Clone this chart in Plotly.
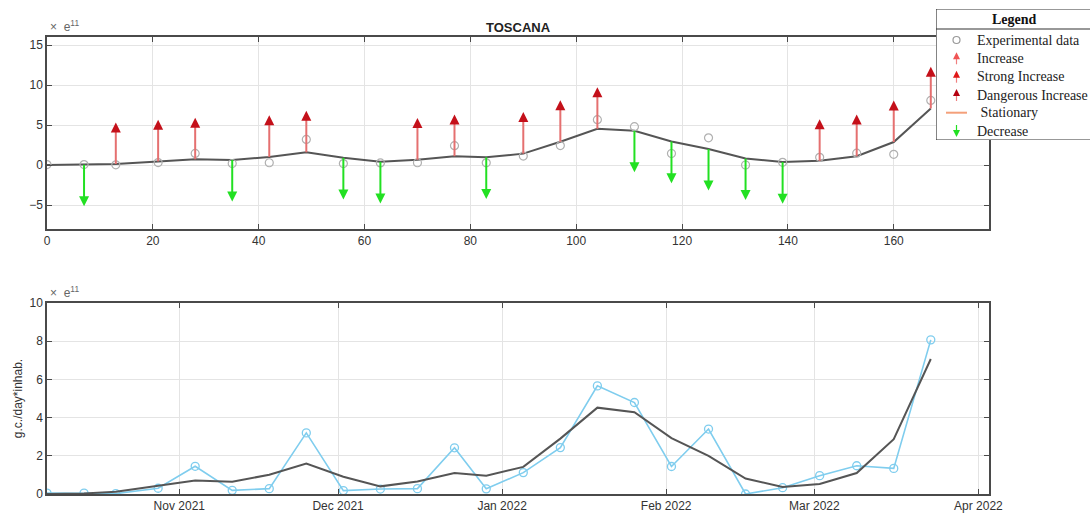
import plotly.graph_objects as go

# ---------------- data ----------------
days = [0, 7, 13, 21, 28, 35, 42, 49, 56, 63, 70, 77, 83, 90, 97, 104, 111, 118, 125, 132, 139, 146, 153, 160, 167]
dates = ["2021-10-07", "2021-10-14", "2021-10-20", "2021-10-28", "2021-11-04", "2021-11-11", "2021-11-18",
         "2021-11-25", "2021-12-02", "2021-12-09", "2021-12-16", "2021-12-23", "2021-12-29", "2022-01-05",
         "2022-01-12", "2022-01-19", "2022-01-26", "2022-02-02", "2022-02-09", "2022-02-16", "2022-02-23",
         "2022-03-02", "2022-03-09", "2022-03-16", "2022-03-23"]
experimental = [0.05, 0.05, 0.02, 0.30, 1.45, 0.19, 0.28, 3.20, 0.18, 0.26, 0.28, 2.42, 0.27, 1.12, 2.43,
                5.66, 4.79, 1.44, 3.40, 0.00, 0.33, 0.96, 1.48, 1.34, 8.07]
smoothed = [0.00, 0.03, 0.12, 0.45, 0.71, 0.64, 1.01, 1.59, 0.90, 0.40, 0.66, 1.10, 0.96, 1.42, 2.90,
            4.52, 4.28, 2.93, 2.00, 0.81, 0.37, 0.52, 1.10, 2.87, 7.07]
trend = ["none", "down", "up", "up", "up", "down", "up", "up", "down", "down", "up", "up", "down", "up", "up",
         "up", "down", "down", "down", "down", "down", "up", "up", "up", "up"]
month_ticks = ["2021-11-01", "2021-12-01", "2022-01-01", "2022-02-01", "2022-03-01", "2022-04-01"]
month_labels = ["Nov 2021", "Dec 2021", "Jan 2022", "Feb 2022", "Mar 2022", "Apr 2022"]
legend_labels = ["Experimental data", "Increase", "Strong Increase", "Dangerous Increase", " Stationary", "Decrease"]

ARROW = 5.2  # arrow length (units of 1e11)

RED_SHAFT = "#e57070"
RED_HEAD = "#c4101a"
GREEN = "#22e022"
GRAY_LINE = "#555555"
CIRC = "#b0b0b0"
BLUE = "#7fcdee"

W, H = 1090, 515


def px_x(a, b):
    return [a / W, min(1.0, b / W)]


def px_y(top, bottom):
    return [(H - bottom) / H, min(1.0, (H - top) / H)]


def pxx(a):
    return a / W


def pxy(a):
    return (H - a) / H


fig = go.Figure()

# ---------- top panel ----------
fig.add_trace(go.Scatter(x=days, y=smoothed, mode="lines", line=dict(color=GRAY_LINE, width=2),
                         showlegend=False, xaxis="x", yaxis="y", hoverinfo="skip"))
fig.add_trace(go.Scatter(x=days, y=experimental, mode="markers",
                         marker=dict(symbol="circle-open", size=8, color=CIRC, line=dict(width=1.2)),
                         showlegend=False, xaxis="x", yaxis="y"))

ux, uy, dx, dy = [], [], [], []
uhx, uhy, dhx, dhy = [], [], [], []
for d, s, t in zip(days, smoothed, trend):
    if t == "up":
        ux += [d, d, None]
        uy += [s, s + ARROW - 0.6, None]
        uhx.append(d)
        uhy.append(s + ARROW)
    elif t == "down":
        dx += [d, d, None]
        dy += [s, s - ARROW + 0.6, None]
        dhx.append(d)
        dhy.append(s - ARROW)

fig.add_trace(go.Scatter(x=ux, y=uy, mode="lines", line=dict(color=RED_SHAFT, width=2),
                         showlegend=False, xaxis="x", yaxis="y", hoverinfo="skip"))
fig.add_trace(go.Scatter(x=dx, y=dy, mode="lines", line=dict(color=GREEN, width=2),
                         showlegend=False, xaxis="x", yaxis="y", hoverinfo="skip"))
fig.add_trace(go.Scatter(x=uhx, y=uhy, mode="markers",
                         marker=dict(symbol="arrow-up", size=10, color=RED_HEAD),
                         showlegend=False, xaxis="x", yaxis="y"))
fig.add_trace(go.Scatter(x=dhx, y=dhy, mode="markers",
                         marker=dict(symbol="arrow-down", size=10, color=GREEN),
                         showlegend=False, xaxis="x", yaxis="y"))

# ---------- bottom panel ----------
fig.add_trace(go.Scatter(x=dates, y=experimental, mode="lines+markers",
                         line=dict(color=BLUE, width=1.6),
                         marker=dict(symbol="circle-open", size=8, color=BLUE, line=dict(width=1.3)),
                         showlegend=False, xaxis="x2", yaxis="y2"))
fig.add_trace(go.Scatter(x=dates, y=smoothed, mode="lines", line=dict(color=GRAY_LINE, width=2),
                         showlegend=False, xaxis="x2", yaxis="y2"))

# ---------- legend box (own hidden axes, pixel units) ----------
row_y = [31, 49.3, 67.7, 86, 103.7, 122]
sym_x = 20.5
fig.add_trace(go.Scatter(x=[sym_x], y=[row_y[0]], mode="markers",
                         marker=dict(symbol="circle-open", size=7, color="#999999", line=dict(width=1.2)),
                         showlegend=False, xaxis="x3", yaxis="y3", hoverinfo="skip"))
for yy, col in zip(row_y[1:4], ["#f05555", "#e01818", "#b5000f"]):
    fig.add_trace(go.Scatter(x=[sym_x, sym_x], y=[yy + 6, yy - 2], mode="lines",
                             line=dict(color="#f08080", width=1.2),
                             showlegend=False, xaxis="x3", yaxis="y3", hoverinfo="skip"))
    fig.add_trace(go.Scatter(x=[sym_x], y=[yy - 6], mode="markers",
                             marker=dict(symbol="arrow-up", size=7, color=col),
                             showlegend=False, xaxis="x3", yaxis="y3", hoverinfo="skip"))
fig.add_trace(go.Scatter(x=[10, 31], y=[row_y[4], row_y[4]], mode="lines",
                         line=dict(color="#f4a07a", width=2),
                         showlegend=False, xaxis="x3", yaxis="y3", hoverinfo="skip"))
fig.add_trace(go.Scatter(x=[sym_x, sym_x], y=[row_y[5] - 6, row_y[5] + 2], mode="lines",
                         line=dict(color=GREEN, width=1.2),
                         showlegend=False, xaxis="x3", yaxis="y3", hoverinfo="skip"))
fig.add_trace(go.Scatter(x=[sym_x], y=[row_y[5] + 6], mode="markers",
                         marker=dict(symbol="arrow-down", size=7, color=GREEN),
                         showlegend=False, xaxis="x3", yaxis="y3", hoverinfo="skip"))

axis_common = dict(showline=True, linecolor="#4a4a4a", linewidth=1.5, mirror="allticks",
                   ticks="inside", ticklen=5, tickcolor="#4a4a4a", showgrid=True,
                   gridcolor="#e4e4e4", gridwidth=1, zeroline=False, automargin=False,
                   tickfont=dict(family="Liberation Sans, Arial", size=12, color="#333333"))

serif = "Liberation Serif, Times New Roman"
annotations = [
    dict(text="<b>TOSCANA</b>", x=pxx(518), y=pxy(27), xref="paper", yref="paper", showarrow=False,
         font=dict(family="Liberation Sans, Arial", size=13, color="#222222"), yanchor="middle"),
    dict(text="×  e<sup>11</sup>", x=pxx(48), y=pxy(36), xref="paper", yref="paper", showarrow=False,
         xanchor="left", yanchor="bottom",
         font=dict(family="Liberation Sans, Arial", size=12, color="#666666")),
    dict(text="×  e<sup>11</sup>", x=pxx(48), y=pxy(302), xref="paper", yref="paper", showarrow=False,
         xanchor="left", yanchor="bottom",
         font=dict(family="Liberation Sans, Arial", size=12, color="#666666")),
    dict(text="<b>Legend</b>", x=78, y=10.5, xref="x3", yref="y3", showarrow=False,
         xanchor="center", yanchor="middle", font=dict(family=serif, size=14, color="#111111")),
]
for lab, yy in zip(legend_labels, row_y):
    annotations.append(dict(text=lab, x=38.5, y=yy, xref="x3", yref="y3", showarrow=False,
                            xanchor="left", yanchor="middle",
                            font=dict(family=serif, size=14, color="#222222")))

shapes = [
    dict(type="rect", xref="x3", yref="y3", x0=0, x1=200, y0=0, y1=131,
         line=dict(color="#333333", width=1.2), fillcolor="white", layer="below"),
    dict(type="line", xref="x3", yref="y3", x0=0, x1=200, y0=20, y1=20,
         line=dict(color="#333333", width=1.2)),
]

fig.update_layout(
    width=W, height=H,
    margin=dict(l=0, r=0, t=0, b=0, autoexpand=False),
    paper_bgcolor="white", plot_bgcolor="white",
    showlegend=False,
    xaxis=dict(domain=px_x(47, 989), range=[0, 178], dtick=20, tick0=0, anchor="y", **axis_common),
    yaxis=dict(domain=px_y(37, 229), range=[-8, 16], tickvals=[-5, 0, 5, 10, 15], anchor="x", **axis_common),
    xaxis2=dict(domain=px_x(47, 989), type="date", range=["2021-10-07", "2022-04-03"],
                tickvals=month_ticks, ticktext=month_labels, anchor="y2", **axis_common),
    yaxis2=dict(domain=px_y(303, 494), range=[0, 10], dtick=2, anchor="x2",
                title=dict(text="g.c./day*inhab.", standoff=4,
                           font=dict(family="Liberation Sans, Arial", size=12, color="#333333")),
                **axis_common),
    xaxis3=dict(domain=px_x(936, 1090), range=[0, 154], visible=False, fixedrange=True, anchor="y3"),
    yaxis3=dict(domain=px_y(9, 140), range=[131, 0], visible=False, fixedrange=True, anchor="x3"),
    annotations=annotations,
    shapes=shapes,
)

fig.write_html("out.html", config={"displayModeBar": False},
               post_script="document.body.style.margin='0';document.body.style.overflow='hidden';")
